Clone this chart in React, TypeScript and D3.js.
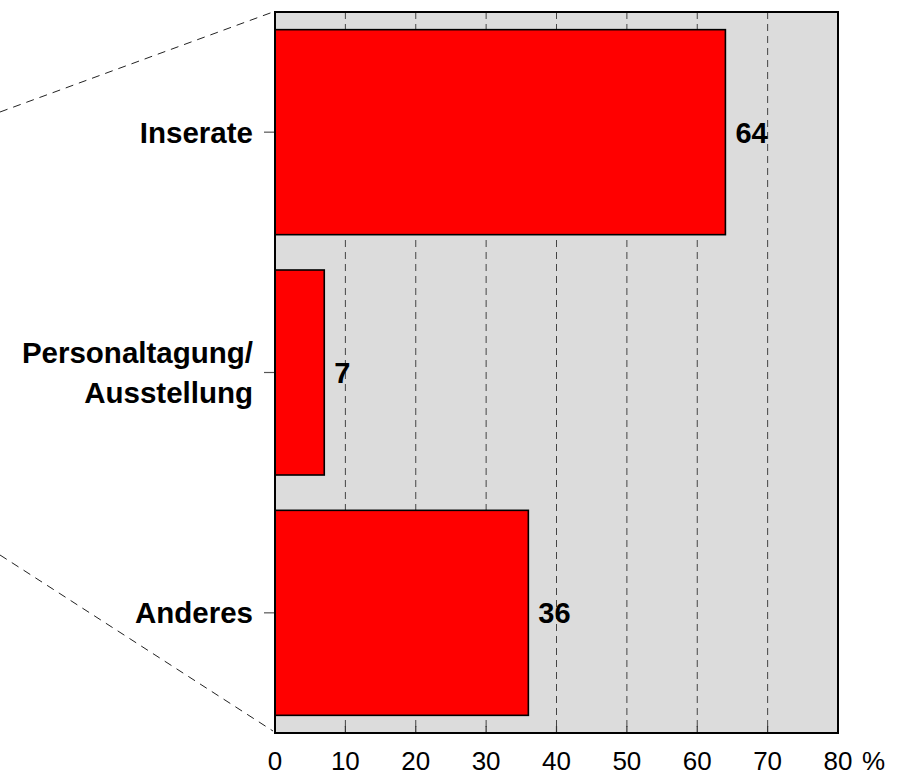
import React from 'react';
import * as d3 from 'd3';

// data
const categories = ['Inserate', 'Personaltagung/\nAusstellung', 'Anderes'];
const values = [64, 7, 36];
const xTicks = [0, 10, 20, 30, 40, 50, 60, 70, 80];
const gridTicks = [10, 20, 30, 40, 50, 60, 70];

// canvas
const width = 900;
const height = 777;

// plot frame
const plotLeft = 275;
const plotRight = 838;
const plotTop = 12;
const plotBottom = 733;

const fontFamily = '"Liberation Sans", Arial, Helvetica, sans-serif';
const barColor = '#ff0000';
const panelColor = '#dcdcdc';

const x = d3.scaleLinear().domain([0, 80]).range([plotLeft, plotRight]);
const y = d3
  .scaleBand<string>()
  .domain(categories)
  .range([plotTop, plotBottom])
  .paddingInner(0.147)
  .paddingOuter(0.0735);

// dashed leader lines to the left
const leaderTop = d3.line()([[0, 112], [273, 12]]);
const leaderBottom = d3.line()([[0, 555], [273, 731]]);

const App = () => (
  <svg
    width={width}
    height={height}
    style={{ position: 'absolute', left: 0, top: 0, background: '#fff' }}
    fontFamily={fontFamily}
  >
    <path d={leaderTop!} stroke="#222" strokeWidth={1} strokeDasharray="8,6" fill="none" />
    <path d={leaderBottom!} stroke="#222" strokeWidth={1} strokeDasharray="8,6" fill="none" />

    {/* panel */}
    <rect
      x={plotLeft}
      y={plotTop}
      width={plotRight - plotLeft}
      height={plotBottom - plotTop}
      fill={panelColor}
    />

    {/* grid */}
    {gridTicks.map((t) => (
      <line
        key={'g' + t}
        x1={x(t)}
        x2={x(t)}
        y1={plotTop}
        y2={plotBottom}
        stroke="#444"
        strokeWidth={1}
        strokeDasharray="7,5"
      />
    ))}
    {gridTicks.map((t) => (
      <line key={'t' + t} x1={x(t)} x2={x(t)} y1={plotBottom - 7} y2={plotBottom} stroke="#333" strokeWidth={1.2} />
    ))}

    {/* bars */}
    {categories.map((c, i) => (
      <rect
        key={c}
        x={x(0)}
        y={y(c)}
        width={x(values[i]) - x(0)}
        height={y.bandwidth()}
        fill={barColor}
        stroke="#000"
        strokeWidth={1.6}
      />
    ))}

    {/* value labels */}
    {categories.map((c, i) => (
      <text
        key={'v' + c}
        x={x(values[i]) + 10}
        y={y(c)! + y.bandwidth() / 2 + 10.5}
        fontSize={29}
        fontWeight="bold"
        fill="#000"
      >
        {values[i]}
      </text>
    ))}

    {/* frame */}
    <rect
      x={plotLeft}
      y={plotTop}
      width={plotRight - plotLeft}
      height={plotBottom - plotTop}
      fill="none"
      stroke="#000"
      strokeWidth={2}
    />

    {/* y axis ticks and labels */}
    {categories.map((c) => {
      const cy = y(c)! + y.bandwidth() / 2;
      const lines = c.split('\n');
      return (
        <g key={'y' + c}>
          <line x1={plotLeft - 11} x2={plotLeft - 1} y1={cy} y2={cy} stroke="#555" strokeWidth={1.2} />
          {lines.map((ln, j) => (
            <text
              key={ln}
              x={253}
              y={lines.length === 1 ? cy + 10.5 : cy - 10 + j * 40}
              textAnchor="end"
              fontSize={29.5}
              fontWeight="bold"
              fill="#000"
            >
              {ln}
            </text>
          ))}
        </g>
      );
    })}

    {/* x axis labels */}
    {xTicks.map((t) => (
      <text key={'x' + t} x={x(t)} y={770} textAnchor="middle" fontSize={26} fill="#000">
        {t}
      </text>
    ))}
    <text x={862} y={770} fontSize={26} fill="#000">
      %
    </text>
  </svg>
);

export default App;
